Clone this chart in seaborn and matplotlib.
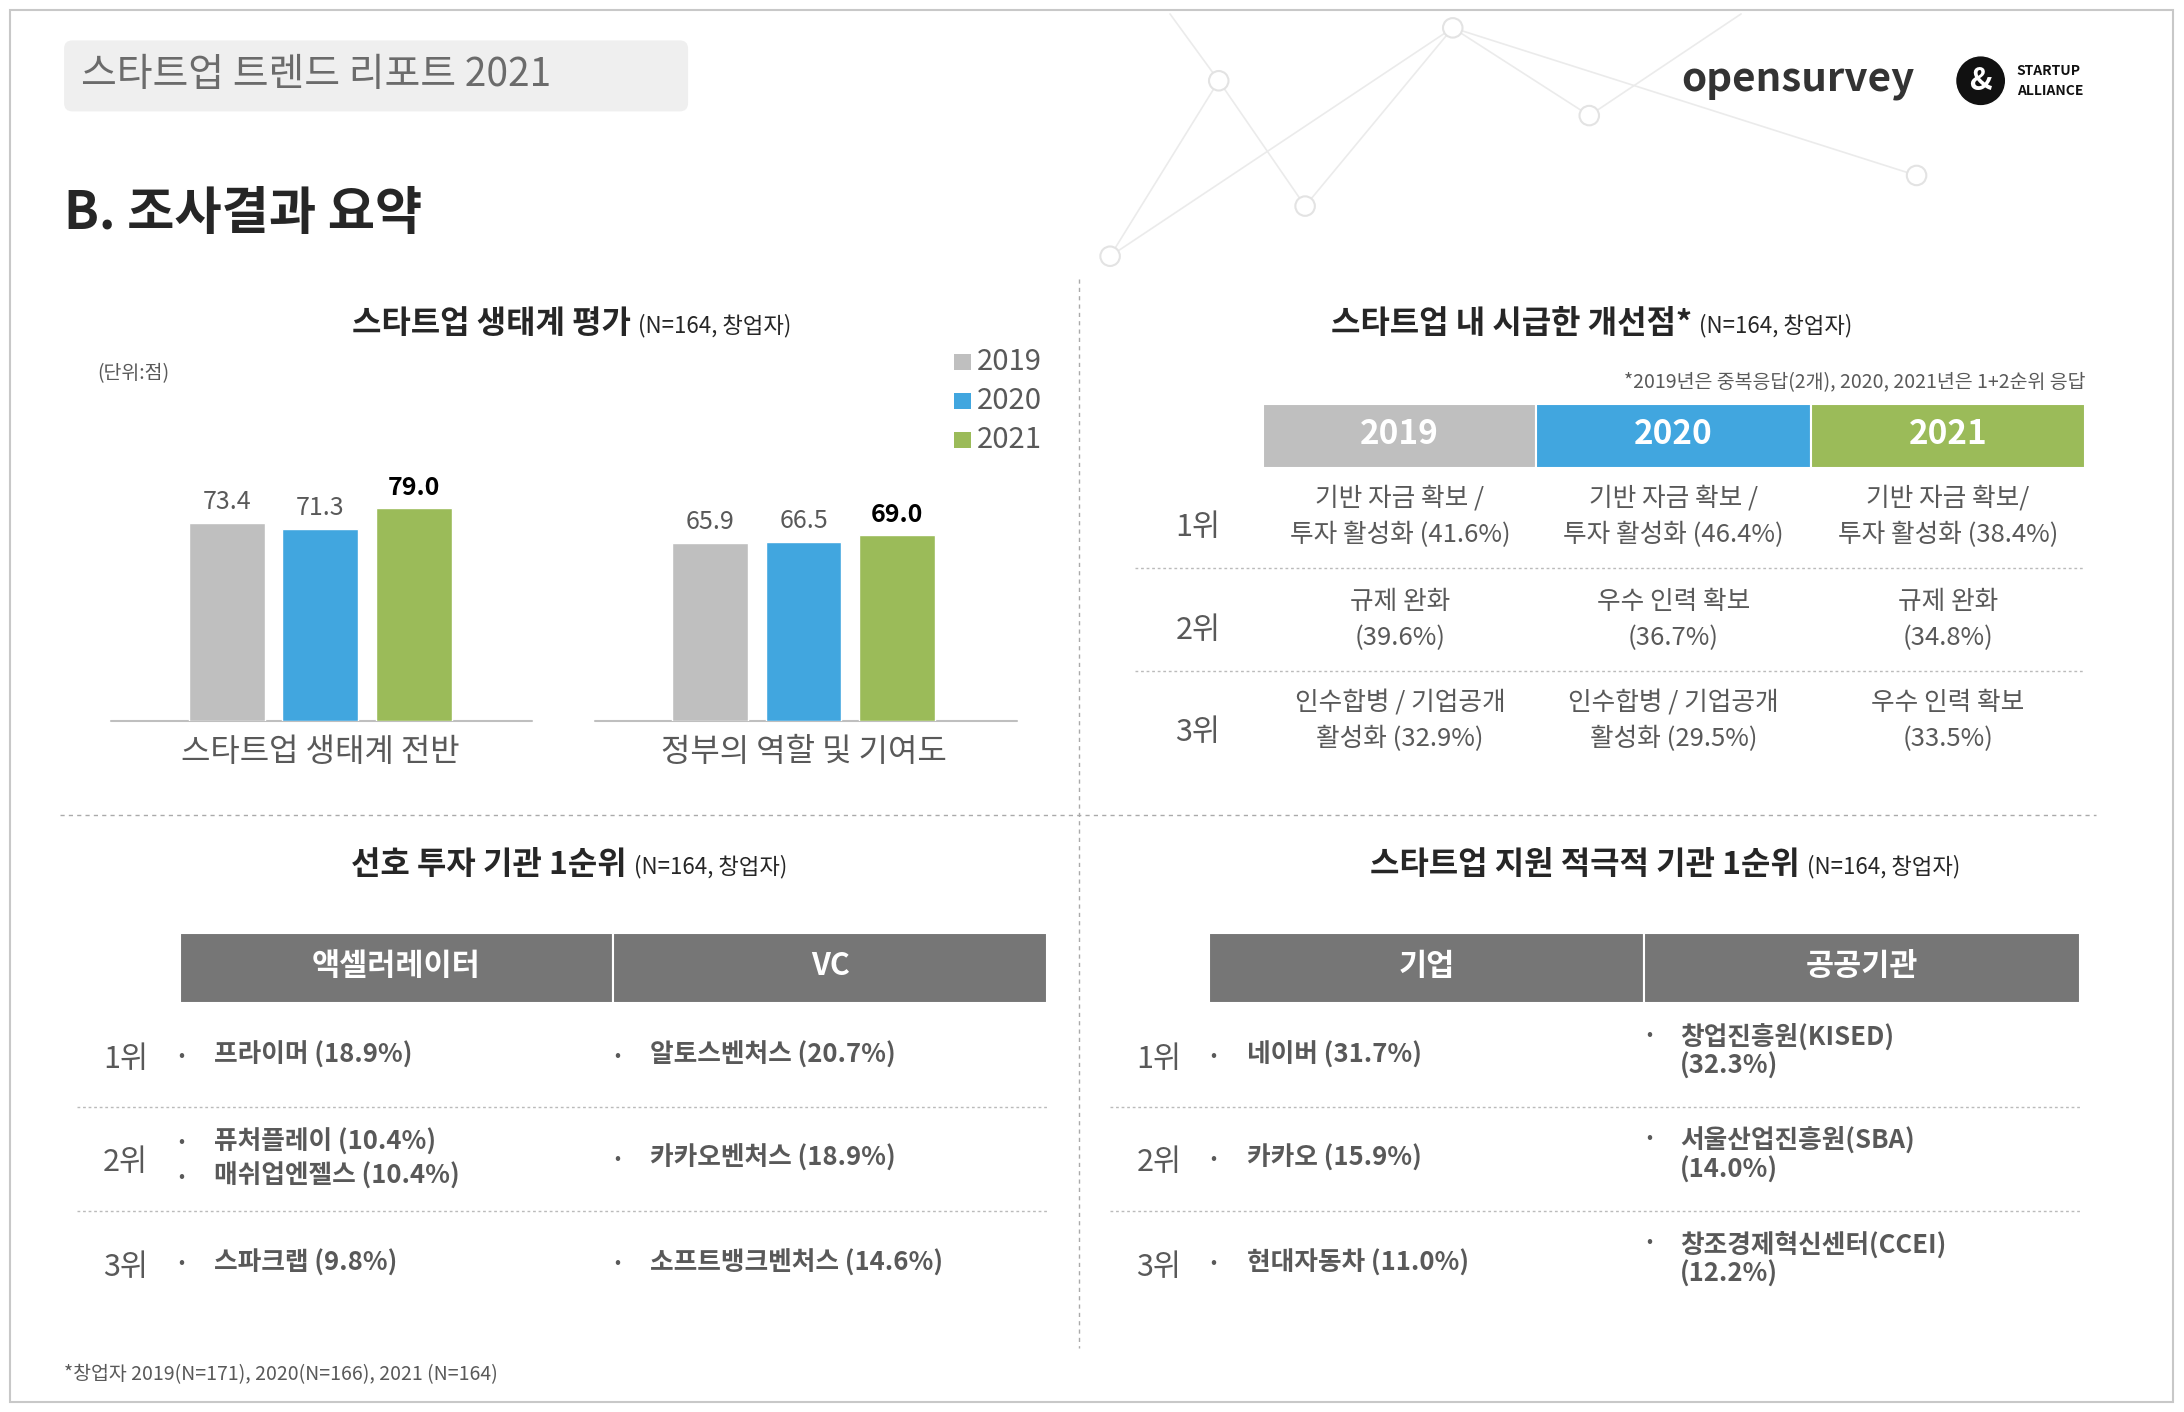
import matplotlib
matplotlib.use("Agg")
import matplotlib.pyplot as plt
import seaborn as sns
import pandas as pd
from matplotlib.patches import Rectangle, FancyBboxPatch, Circle

sns.set_theme(style="white")
plt.rcParams['font.family'] = ['Noto Sans CJK KR', 'DejaVu Sans']

# ---------------- data ----------------
years = ["2019", "2020", "2021"]
categories = ["스타트업 생태계 전반", "정부의 역할 및 기여도"]
eco_values = [73.4, 71.3, 79.0]
gov_values = [65.9, 66.5, 69.0]
year_colors = ["#BFBFBF", "#41A6DF", "#9BBB59"]

rank_labels = ["1위", "2위", "3위"]
improve_2019 = [["기반 자금 확보 /", "투자 활성화 (41.6%)"], ["규제 완화", "(39.6%)"], ["인수합병 / 기업공개", "활성화 (32.9%)"]]
improve_2020 = [["기반 자금 확보 /", "투자 활성화 (46.4%)"], ["우수 인력 확보", "(36.7%)"], ["인수합병 / 기업공개", "활성화 (29.5%)"]]
improve_2021 = [["기반 자금 확보/", "투자 활성화 (38.4%)"], ["규제 완화", "(34.8%)"], ["우수 인력 확보", "(33.5%)"]]

invest_headers = ["액셀러레이터", "VC"]
invest_acc = [["프라이머 (18.9%)"], ["퓨처플레이 (10.4%)", "매쉬업엔젤스 (10.4%)"], ["스파크랩 (9.8%)"]]
invest_vc = [["알토스벤처스 (20.7%)"], ["카카오벤처스 (18.9%)"], ["소프트뱅크벤처스 (14.6%)"]]

support_headers = ["기업", "공공기관"]
support_corp = ["네이버 (31.7%)", "카카오 (15.9%)", "현대자동차 (11.0%)"]
support_public = [["창업진흥원(KISED)", "(32.3%)"], ["서울산업진흥원(SBA)", "(14.0%)"], ["창조경제혁신센터(CCEI)", "(12.2%)"]]

W, H = 1568, 1014
fig = plt.figure(figsize=(21.84, 14.12), dpi=100)
bg = fig.add_axes([0, 0, 1, 1])
bg.set_xlim(0, W); bg.set_ylim(H, 0); bg.axis("off")

GRAY = "#595959"
def T(x, y, s, size=18, color=GRAY, weight="normal", ha="left", va="center", **kw):
    bg.text(x, y, s, fontsize=size, color=color, fontweight=weight, ha=ha, va=va, **kw)

# frame
bg.add_patch(Rectangle((7, 7), 1553, 1000, fill=False, ec="#C8C8C8", lw=1.5))
# decorative network
pts = [(797, 184), (875, 58), (937, 148), (1043, 20), (1141, 83), (1376, 126), (1250, 10), (840, 10)]
for a, b in [(0, 1), (1, 2), (0, 3), (3, 4), (4, 6), (3, 5), (1, 7), (2, 3)]:
    bg.plot([pts[a][0], pts[b][0]], [pts[a][1], pts[b][1]], color="#EBEBEB", lw=1.2, zorder=0)
for p in pts[:6]:
    bg.add_patch(Circle(p, 7, fc="white", ec="#E3E3E3", lw=1.5, zorder=1))

# header
bg.add_patch(FancyBboxPatch((46, 29), 448, 51, boxstyle="round,pad=0,rounding_size=6", fc="#EFEFEF", ec="none"))
T(58, 54, "스타트업 트렌드 리포트 2021", size=28, color="#6B6B6B")
T(46, 153, "B. 조사결과 요약", size=37, color="#262626", weight="bold")
# logos
T(1207, 58, "opensurvey", size=29, color="#333333", weight="bold")
bg.add_patch(Circle((1422, 58), 18, fc="#111111"))
T(1422, 58, "&", size=22, color="white", weight="bold", ha="center")
T(1448, 51, "STARTUP", size=10, color="#111111", weight="bold")
T(1448, 65, "ALLIANCE", size=10, color="#111111", weight="bold")

# dividers
bg.plot([775, 775], [200, 968], color="#AAAAAA", lw=1, ls=(0, (3, 3)))
bg.plot([43, 1505], [585, 585], color="#AAAAAA", lw=1, ls=(0, (3, 3)))

# section titles
def title(xc, y, main, sub="(N=164, 창업자)"):
    bg.text(xc, y, main + " ", fontsize=23, color="#262626", fontweight="bold", ha="right", va="center")
    bg.text(xc, y + 1, sub, fontsize=16, color="#262626", ha="left", va="center")
title(458, 233, "스타트업 생태계 평가")
title(1220, 233, "스타트업 내 시급한 개선점*")
title(455, 621, "선호 투자 기관 1순위")
title(1297, 621, "스타트업 지원 적극적 기관 1순위")
T(70, 268, "(단위:점)", size=14)
T(1497, 275, "*2019년은 중복응답(2개), 2020, 2021년은 1+2순위 응답", size=14, ha="right")

# ---------------- bar chart ----------------
df = pd.DataFrame({
    "category": [categories[0]] * 3 + [categories[1]] * 3,
    "year": years * 2,
    "value": eco_values + gov_values,
})
x0, x1, y0, y1 = 80, 730, 330, 518
ax = fig.add_axes([x0 / W, 1 - y1 / H, (x1 - x0) / W, (y1 - y0) / H])
sns.barplot(data=df, x="category", y="value", hue="year", palette=year_colors,
            width=0.58, gap=0.19, ax=ax, legend=False, saturation=1)
ax.set_xlim(-0.432, 1.441); ax.set_ylim(0, 97)
ax.axis("off")
for i, cont in enumerate(ax.containers):
    for bar in cont:
        v = bar.get_height()
        last = i == 2
        ax.text(bar.get_x() + bar.get_width() / 2, v + 3, f"{v:.1f}", ha="center", va="bottom",
                fontsize=18, color="black" if last else GRAY, fontweight="bold" if last else "normal")
bg.plot([80, 382], [518, 518], color="#BFBFBF", lw=1.5)
bg.plot([427, 730], [518, 518], color="#BFBFBF", lw=1.5)
T(230, 540, categories[0], size=23, ha="center")
T(577, 540, categories[1], size=23, ha="center")
for i, (yr, c) in enumerate(zip(years, year_colors)):
    yy = 260 + 28 * i
    bg.add_patch(Rectangle((685, yy - 6), 12, 12, fc=c, ec="none"))
    T(701, yy, yr, size=21)

# ---------------- improvements table ----------------
cols = [(907, 1103), (1103, 1300), (1300, 1497)]
for (a, b), yr, c in zip(cols, years, year_colors):
    bg.add_patch(Rectangle((a, 290), b - a, 46, fc=c, ec="white", lw=1.5))
    T((a + b) / 2, 312, yr, size=24, color="white", weight="bold", ha="center")
rows_y = [371, 445, 518]
for r, yy in enumerate(rows_y):
    T(860, yy + 8, rank_labels[r], size=22, ha="center")
    for (a, b), data in zip(cols, [improve_2019, improve_2020, improve_2021]):
        T((a + b) / 2, yy - 13, data[r][0], size=18.5, ha="center")
        T((a + b) / 2, yy + 13, data[r][1], size=18.5, ha="center")
for yy in [408, 482]:
    bg.plot([815, 1497], [yy, yy], color="#BBBBBB", lw=1, ls=(0, (2, 2)))

# ---------------- bottom tables ----------------
def table(hx, headers, label_x, sep_x0, bullets_x, left, right):
    (a, m, b) = hx
    for (p, q), h in zip([(a, m), (m, b)], headers):
        bg.add_patch(Rectangle((p, 670), q - p, 50, fc="#767676", ec="white", lw=1.5))
        T((p + q) / 2, 694, h, size=22, color="white", weight="bold", ha="center")
    for yy in [795, 870]:
        bg.plot([sep_x0, b], [yy, yy], color="#BBBBBB", lw=1, ls=(0, (2, 2)))
    ys = [758, 832, 907]
    for r, yy in enumerate(ys):
        T(label_x, yy + 3, rank_labels[r], size=22, ha="center")
        for bx, items in zip(bullets_x, [left[r], right[r]]):
            if len(items) == 2 and items[1].startswith("("):
                T(bx, yy - 15, "•", size=13)
                T(bx + 24, yy - 13, items[0], size=18.5, weight="bold")
                T(bx + 24, yy + 8, items[1], size=18.5, weight="bold")
            else:
                for k, s in enumerate(items):
                    yk = yy + (k * 25 - 12 if len(items) == 2 else 0)
                    T(bx, yk, "•", size=13)
                    T(bx + 26, yk, s, size=18.5, weight="bold")

table((129, 440, 752), invest_headers, 90, 55, [128, 441], invest_acc, invest_vc)
table((868, 1180, 1493), support_headers, 832, 797, [869, 1182],
      [[s] for s in support_corp], support_public)

T(46, 987, "*창업자 2019(N=171), 2020(N=166), 2021 (N=164)", size=14)

fig.savefig("out.png", dpi=100, facecolor="white")
